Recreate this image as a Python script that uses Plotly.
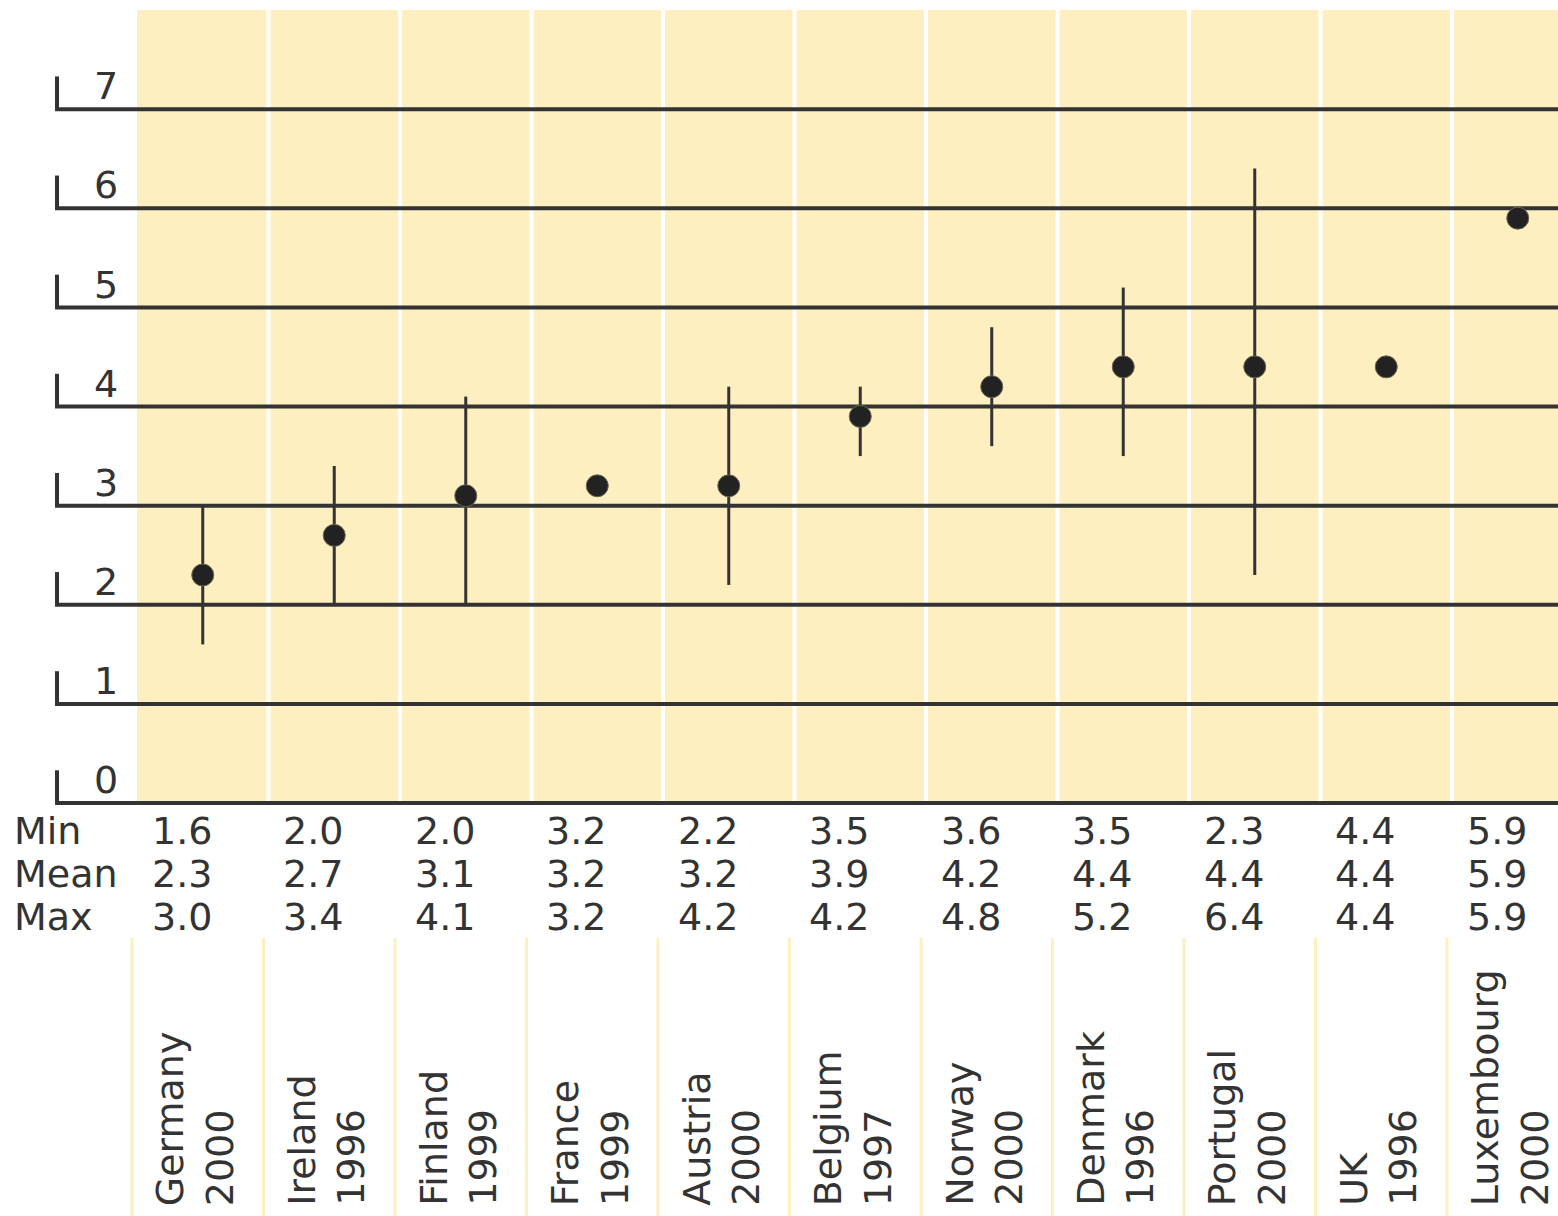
import plotly.graph_objects as go

countries = ["Germany", "Ireland", "Finland", "France", "Austria", "Belgium",
             "Norway", "Denmark", "Portugal", "UK", "Luxembourg"]
years = ["2000", "1996", "1999", "1999", "2000", "1997", "2000", "1996", "2000", "1996", "2000"]
min_vals = [1.6, 2.0, 2.0, 3.2, 2.2, 3.5, 3.6, 3.5, 2.3, 4.4, 5.9]
mean_vals = [2.3, 2.7, 3.1, 3.2, 3.2, 3.9, 4.2, 4.4, 4.4, 4.4, 5.9]
max_vals = [3.0, 3.4, 4.1, 3.2, 4.2, 4.2, 4.8, 5.2, 6.4, 4.4, 5.9]
y_ticks = [0, 1, 2, 3, 4, 5, 6, 7]
row_labels = ["Min", "Mean", "Max"]

W, H = 1558, 1216
ML, MT, MB = 53, 10, 410
PLOT_W = W - ML
PLOT_H = H - MT - MB
COL_PX = 131.5
X0 = -0.5 - (137 - ML) / COL_PX
X1 = X0 + PLOT_W / COL_PX
Y0, Y1 = -0.03, 8.0

def px_to_x(px):
    return X0 + (px - ML) / COL_PX

def px_to_paper_x(px):
    return (px - ML) / PLOT_W

def py_to_paper(py):
    return (H - MB - py) / PLOT_H

INK = "#333333"
YELLOW = "#feefc1"
FONT = dict(family="DejaVu Sans", size=38, color=INK)

n = len(countries)
xs = list(range(n))

fig = go.Figure()
fig.add_trace(go.Scatter(
    x=xs, y=mean_vals, mode="markers",
    marker=dict(size=22, color="#222222", line=dict(width=1, color="#6b6650")),
    error_y=dict(type="data", symmetric=False,
                 array=[mx - m for mx, m in zip(max_vals, mean_vals)],
                 arrayminus=[m - mn for m, mn in zip(mean_vals, min_vals)],
                 thickness=3, width=0, color=INK),
    hoverinfo="skip", showlegend=False,
))

shapes = []
shapes.append(dict(type="rect", xref="x", yref="y", x0=-0.5, x1=X1 + 1, y0=0, y1=Y1 + 1,
                   fillcolor=YELLOW, line=dict(width=0), layer="below"))
for i in range(n - 1):
    shapes.append(dict(type="line", xref="x", yref="y", x0=i + 0.5, x1=i + 0.5, y0=0, y1=Y1 + 1,
                       line=dict(color="white", width=4), layer="below"))
xl = px_to_x(57)
for v in y_ticks:
    shapes.append(dict(type="line", xref="x", yref="y", x0=xl - 0.015, x1=X1 + 1, y0=v, y1=v,
                       line=dict(color=INK, width=4), layer="below"))
    shapes.append(dict(type="line", xref="x", yref="y", x0=xl, x1=xl, y0=v, y1=v + 0.33,
                       line=dict(color=INK, width=4), layer="below"))
for i in range(n):
    shapes.append(dict(type="line", xref="x", yref="paper", x0=i - 0.5 - 0.038, x1=i - 0.5 - 0.038,
                       y0=py_to_paper(938), y1=py_to_paper(H + 5),
                       line=dict(color=YELLOW, width=3)))

annotations = []
for v in y_ticks:
    annotations.append(dict(x=px_to_x(120), y=v + 0.23, xref="x", yref="y", text=str(v),
                            showarrow=False, xanchor="right", yanchor="middle", font=FONT))

rows = [(row_labels[0], min_vals, 831), (row_labels[1], mean_vals, 874), (row_labels[2], max_vals, 917)]
for label, vals, py in rows:
    annotations.append(dict(x=px_to_paper_x(12), y=py_to_paper(py), xref="paper", yref="paper",
                            text=label, showarrow=False, xanchor="left", yanchor="middle", font=FONT))
    for i, val in enumerate(vals):
        annotations.append(dict(x=i, y=py_to_paper(py), xref="x", yref="paper", text=f"{val:.1f}",
                                showarrow=False, xanchor="center", yanchor="middle",
                                xshift=-21, font=FONT))

for i, (c, yr) in enumerate(zip(countries, years)):
    annotations.append(dict(x=i, y=py_to_paper(1208), xref="x", yref="paper",
                            text=f"{c}<br>{yr}", textangle=-90, align="left",
                            showarrow=False, xanchor="center", yanchor="bottom",
                            xshift=-8, font=FONT))

fig.update_layout(
    width=W, height=H,
    margin=dict(l=ML, r=0, t=MT, b=MB, pad=0),
    paper_bgcolor="white", plot_bgcolor="rgba(0,0,0,0)",
    xaxis=dict(range=[X0, X1], showgrid=False, zeroline=False, showticklabels=False,
               showline=False, ticks="", fixedrange=True),
    yaxis=dict(range=[Y0, Y1], showgrid=False, zeroline=False, showticklabels=False,
               showline=False, ticks="", fixedrange=True),
    shapes=shapes, annotations=annotations,
    font=FONT, showlegend=False,
)

fig.write_html("out.html", config={"displayModeBar": False},
               post_script="document.body.style.margin='0';document.body.style.overflow='hidden';")
